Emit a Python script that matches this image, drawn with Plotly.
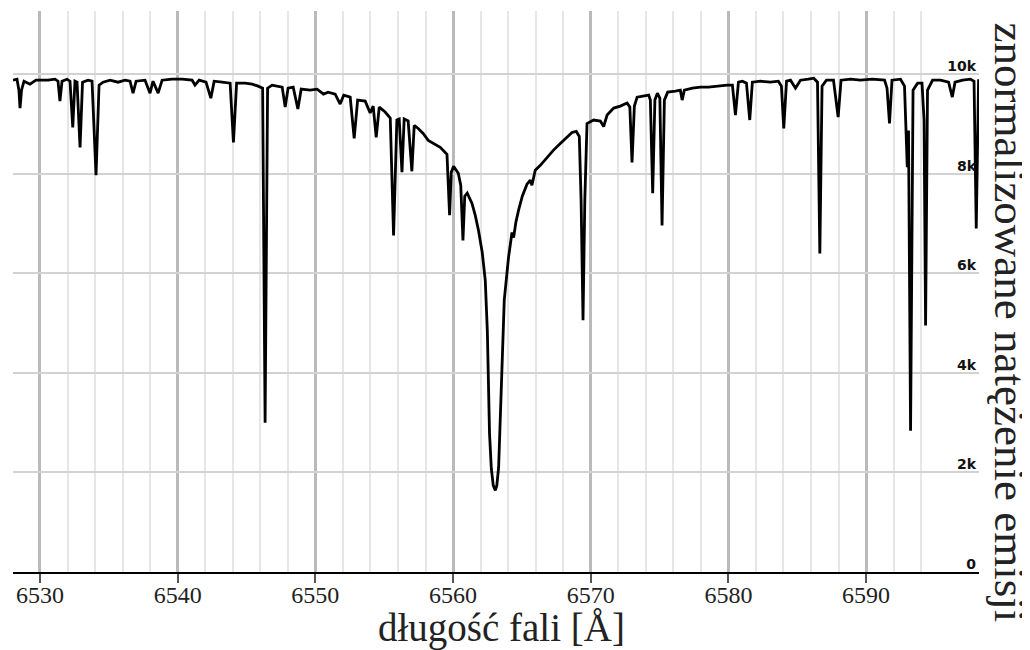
import plotly.graph_objects as go

# Widmo: długość fali [Å] i natężenie (skala 0-10k)
wavelength = [
    6528.04, 6528.33, 6528.47, 6528.55, 6528.66, 6528.84, 6529.27, 6529.71, 6530.58, 6531.09,
    6531.31, 6531.45, 6531.60, 6531.96, 6532.18, 6532.38, 6532.54, 6532.69, 6532.91, 6533.09,
    6533.49, 6533.78, 6534.07, 6534.29, 6534.58, 6535.09, 6535.67, 6536.18, 6536.54, 6536.76,
    6536.98, 6537.63, 6537.99, 6538.21, 6538.58, 6538.87, 6539.59, 6540.32, 6541.05, 6541.26,
    6541.56, 6542.06, 6542.41, 6542.65, 6543.23, 6543.81, 6544.05, 6544.28, 6544.90, 6545.41,
    6545.84, 6546.17, 6546.35, 6546.53, 6546.86, 6547.30, 6547.59, 6547.81, 6548.02, 6548.39,
    6548.73, 6548.97, 6549.62, 6550.13, 6550.59, 6550.93, 6551.44, 6551.80, 6552.06, 6552.53,
    6552.82, 6553.07, 6553.62, 6553.98, 6554.20, 6554.42, 6554.64, 6555.07, 6555.44, 6555.68,
    6555.92, 6556.09, 6556.29, 6556.45, 6556.74, 6557.01, 6557.18, 6557.47, 6557.83, 6558.20,
    6558.56, 6559.07, 6559.56, 6559.75, 6559.87, 6560.04, 6560.38, 6560.56, 6560.72, 6560.85,
    6561.03, 6561.37, 6561.61, 6561.85, 6562.12, 6562.34, 6562.49, 6562.58, 6562.65, 6562.78,
    6562.92, 6563.07, 6563.18, 6563.31, 6563.43, 6563.55, 6563.72, 6564.03, 6564.28, 6564.40,
    6564.56, 6564.76, 6565.03, 6565.37, 6565.61, 6565.73, 6565.97, 6566.34, 6566.82, 6567.28,
    6567.79, 6568.23, 6568.64, 6568.95, 6569.17, 6569.30, 6569.44, 6569.57, 6569.73, 6570.21,
    6570.70, 6570.94, 6571.19, 6571.67, 6572.15, 6572.64, 6572.84, 6573.00, 6573.17, 6573.37,
    6573.82, 6574.21, 6574.33, 6574.50, 6574.66, 6574.84, 6575.02, 6575.18, 6575.35, 6575.59,
    6576.15, 6576.51, 6576.64, 6576.80, 6577.38, 6577.97, 6578.55, 6579.13, 6579.91, 6580.29,
    6580.51, 6580.73, 6581.02, 6581.31, 6581.55, 6581.74, 6582.33, 6583.05, 6583.63, 6583.85,
    6584.02, 6584.22, 6584.51, 6584.87, 6585.23, 6585.81, 6586.20, 6586.47, 6586.64, 6586.80,
    6587.12, 6587.63, 6587.97, 6588.18, 6588.87, 6589.59, 6590.44, 6591.34, 6591.52, 6591.70,
    6591.88, 6592.50, 6592.79, 6592.99, 6593.08, 6593.23, 6593.41, 6593.74, 6594.06, 6594.21,
    6594.32, 6594.46, 6594.83, 6595.41, 6595.99, 6596.26, 6596.46, 6597.01, 6597.59, 6597.84,
    6598.00, 6598.17,
]
intensity = [
    9880, 9900, 9680, 9320, 9680, 9860, 9800, 9880, 9880, 9900,
    9860, 9460, 9860, 9900, 9860, 8930, 9860, 9840, 8530, 9840,
    9880, 9860, 7970, 9780, 9840, 9880, 9840, 9880, 9860, 9620,
    9860, 9880, 9620, 9860, 9620, 9880, 9900, 9900, 9880, 9780,
    9880, 9840, 9520, 9860, 9840, 9820, 8630, 9820, 9820, 9800,
    9760, 9720, 3000, 9720, 9780, 9760, 9740, 9340, 9720, 9740,
    9300, 9700, 9680, 9700, 9600, 9640, 9600, 9400, 9580, 9540,
    8710, 9480, 9460, 9220, 9360, 8730, 9340, 9240, 9120, 6760,
    9080, 9100, 8030, 9100, 9060, 8050, 8970, 8910, 8810, 8670,
    8610, 8530, 8390, 7170, 8030, 8150, 8010, 7770, 6660, 7550,
    7610, 7410, 7170, 6860, 6420, 5860, 4850, 3790, 2780, 2080,
    1740, 1640, 1740, 2100, 3110, 4450, 5460, 6320, 6820, 6720,
    7020, 7270, 7550, 7790, 7870, 7770, 8070, 8170, 8330, 8470,
    8610, 8730, 8830, 8850, 8750, 7470, 5060, 7470, 9010, 9080,
    9060, 8950, 9180, 9320, 9360, 9420, 9340, 8230, 9360, 9540,
    9560, 9580, 9480, 7610, 9480, 9620, 9520, 6960, 9480, 9640,
    9660, 9680, 9480, 9680, 9720, 9740, 9740, 9760, 9780, 9780,
    9180, 9840, 9860, 9820, 9080, 9840, 9860, 9840, 9860, 9760,
    8910, 9860, 9880, 9720, 9880, 9900, 9920, 9840, 6400, 9760,
    9880, 9880, 9140, 9880, 9900, 9880, 9900, 9880, 9720, 9010,
    9880, 9900, 9760, 8130, 8870, 2840, 9680, 9820, 9820, 9080,
    4950, 9680, 9880, 9880, 9840, 9540, 9840, 9880, 9900, 9860,
    6900, 9900,
]

x_range = [6528.04, 6598.2]
y_range = [0, 11270]
y_ticks = [0, 2000, 4000, 6000, 8000, 10000]

SERIF = "Liberation Serif, Times New Roman, serif"

fig = go.Figure()
fig.add_trace(go.Scatter(x=wavelength, y=intensity, mode="lines",
                         line=dict(color="black", width=2.8), hoverinfo="skip",
                         showlegend=False))

# strona ma 8 px marginesu w <body>, więc figura jest o tyle mniejsza
fig.update_layout(
    width=1022, height=642,
    margin=dict(l=5, r=51, t=3, b=78, autoexpand=False),
    paper_bgcolor="white", plot_bgcolor="white",
    xaxis=dict(
        range=x_range, dtick=10, tick0=6530, automargin=False,
        showgrid=True, gridcolor="#bababa", gridwidth=2.5,
        minor=dict(dtick=2, tick0=6530, showgrid=True,
                   gridcolor="#e6e6e6", gridwidth=2),
        ticks="outside", ticklen=9, tickwidth=2, tickcolor="#555",
        ticklabelstandoff=-9,
        showline=True, linecolor="black", linewidth=2,
        zeroline=False,
        tickfont=dict(family=SERIF, size=24, color="#222"),
    ),
    yaxis=dict(
        range=y_range, side="right", tickvals=y_ticks, tickformat="~s",
        ticklabelposition="inside", ticklabelshift=-8, ticks="", automargin=False,
        showgrid=True, gridcolor="#d2d2d2", gridwidth=2,
        zeroline=False, showline=False,
        tickfont=dict(family="DejaVu Sans", size=14, color="#111", weight="bold"),
    ),
    annotations=[
        dict(text="długość fali [Å]",
             xref="paper", yref="paper", x=0.5057, y=-0.1,
             xanchor="center", yanchor="middle", showarrow=False,
             font=dict(family=SERIF, size=39, color="#222")),
        dict(text="znormalizowane natężenie emisji", textangle=90,
             xref="paper", yref="paper", x=1.032, y=0.445,
             xanchor="center", yanchor="middle", showarrow=False,
             font=dict(family=SERIF, size=45, color="#222")),
    ],
)

fig.write_html("out.html")
